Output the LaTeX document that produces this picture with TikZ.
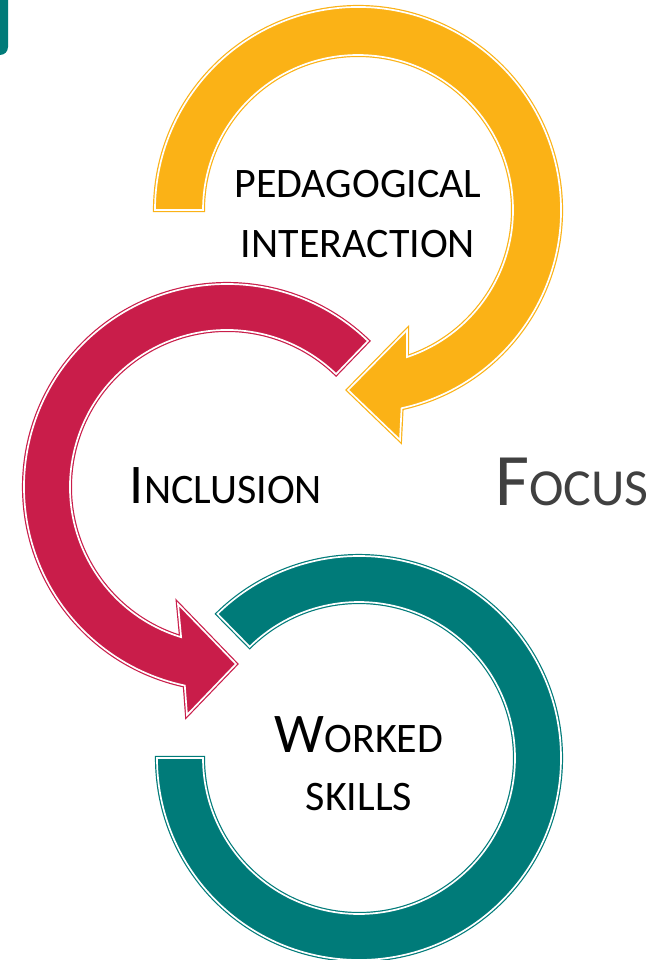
\documentclass[tikz,border=0pt]{standalone}
\usepackage{fontspec}
\setmainfont{Carlito}
\definecolor{sun}{RGB}{251,178,22}
\definecolor{berry}{RGB}{201,29,74}
\definecolor{sea}{RGB}{0,123,121}
\definecolor{ink}{RGB}{64,64,64}
% large initial letter followed by smaller capitals
\newcommand\capword[2]{{\fontsize{56}{60}\selectfont #1}{\fontsize{42}{50}\selectfont #2}}
\newcommand\smallword[1]{{\fontsize{42}{50}\selectfont #1}}
\tikzset{
  band/.style={fill=#1, draw=#1, double=white, double distance=1.7pt,
               line width=1.2pt, line join=miter, miter limit=20},
  word/.style={anchor=base, inner sep=0pt, text=black}
}
\begin{document}
\begin{tikzpicture}[x=1pt, y=1pt]
\useasboundingbox (0,0) rectangle (668,-960);

% corner tab in the top left
\fill[sea, rounded corners=8pt] (-20,20) rectangle (8,-55);

% centres of the three rings
\coordinate (yc) at (358,-210);
\coordinate (rc) at (227,-487);
\coordinate (tc) at (359,-758);

% yellow curved arrow
\path[band=sun] ([shift={(yc)}]180:203) -- ([shift={(yc)}]180:155)
  arc[start angle=180, end angle=-71.6, radius=155]
  -- (407,-330) -- (348,-390) -- (400,-440)
  -- ([shift={(yc)}]-77.6:203)
  arc[start angle=-77.6, end angle=180, radius=203] -- cycle;

% red curved arrow
\path[band=berry] ([shift={(rc)}]46:203)
  arc[start angle=46, end angle=258, radius=203]
  -- (187,-715) -- (236,-664) -- (178,-604)
  -- ([shift={(rc)}]253:157)
  arc[start angle=253, end angle=46, radius=157] -- cycle;

% teal open ring
\path[band=sea] ([shift={(tc)}]180:202)
  arc[start angle=180, end angle=494.5, radius=202]
  -- ([shift={(tc)}]134.5:156)
  arc[start angle=494.5, end angle=180, radius=156] -- cycle;

% texts
\node[word] (ped) at (358,-197) {\smallword{PEDAGOGICAL}};
\node[word] (inter) at (358,-257) {\smallword{INTERACTION}};
\node[word] (incl) at (226,-503) {\capword{I}{NCLUSION}};
\node[word] (work) at (359,-752) {\capword{W}{ORKED}};
\node[word] (skills) at (359,-810) {\smallword{SKILLS}};
\node[word, text=ink] (focus) at (572,-505)
  {{\fontsize{74}{80}\selectfont F}{\fontsize{52}{60}\selectfont OCUS}};
\end{tikzpicture}
\end{document}
